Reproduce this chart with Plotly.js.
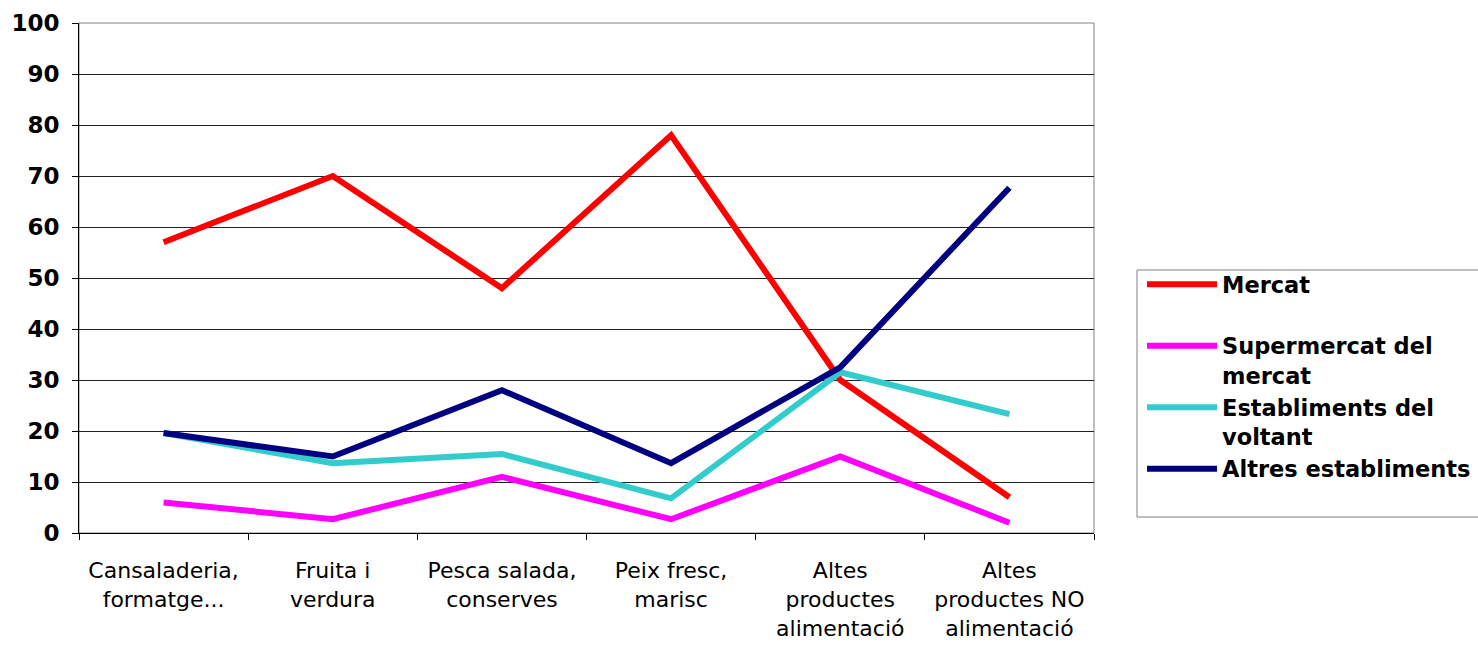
<!DOCTYPE html>
<html>
<head>
<meta charset="utf-8">
<script src="https://cdn.plot.ly/plotly-3.0.1.min.js"></script>
<style>html,body{margin:0;padding:0;background:#fff;}#chart{width:1478px;height:645px;}</style>
</head>
<body>
<div id="chart"></div>
<script>
const categories = [
  "Cansaladeria,<br>formatge...",
  "Fruita i<br>verdura",
  "Pesca salada,<br>conserves",
  "Peix fresc,<br>marisc",
  "Altes<br>productes<br>alimentació",
  "Altes<br>productes NO<br>alimentació"
];
const mercat = [57, 70, 48, 78, 30, 7];
const supermercat = [6, 2.7, 11, 2.7, 15, 2];
const establiments = [19.6, 13.7, 15.5, 6.8, 31.5, 23.3];
const altres = [19.6, 15, 28, 13.7, 32.5, 67.7];
const seriesNames = ["Mercat<br> ", "Supermercat del<br>mercat", "Establiments del<br>voltant", "Altres establiments"];
const yTicks = [0, 10, 20, 30, 40, 50, 60, 70, 80, 90, 100];

const colors = ["#FF0000", "#FF00FF", "#33CCCC", "#000080"];
const data = [mercat, supermercat, establiments, altres].map((vals, i) => ({
  type: "scatter",
  mode: "lines",
  x: categories,
  y: vals,
  name: seriesNames[i],
  line: {color: colors[i], width: 6}
}));

const layout = {
  width: 1478,
  height: 645,
  paper_bgcolor: "#fff",
  plot_bgcolor: "#fff",
  margin: {l: 79, r: 384, t: 23, b: 112, autoexpand: false},
  font: {family: "DejaVu Sans, Verdana, sans-serif", color: "#000"},
  showlegend: true,
  legend: {
    x: 1.0473, y: 0.5294, xanchor: "left", yanchor: "top",
    borderwidth: 0, bgcolor: "rgba(0,0,0,0)",
    font: {size: 22.5, weight: "bold", family: "DejaVu Sans, Verdana, sans-serif"},
    valign: "top",
    itemwidth: 70,
    tracegroupgap: 0
  },
  xaxis: {
    type: "category",
    range: [-0.5, 5.5],
    showgrid: false,
    showline: true, linecolor: "#000", linewidth: 1,
    ticks: "outside", ticklen: 6, tickcolor: "#000",
    tickson: "boundaries",
    tickfont: {size: 22},
    ticklabelstandoff: 18,
    zeroline: false,
    fixedrange: true
  },
  yaxis: {
    range: [0, 100],
    tickvals: yTicks,
    ticktext: yTicks.map(String),
    showgrid: true, gridcolor: "#222", gridwidth: 1,
    showline: true, linecolor: "#000", linewidth: 1,
    ticks: "outside", ticklen: 6, tickcolor: "#000",
    tickfont: {size: 23, weight: "bold"},
    ticklabelstandoff: 8,
    zeroline: false,
    fixedrange: true
  },
  shapes: [
    {type: "rect", xref: "paper", yref: "paper", x0: 0, x1: 1, y0: 0, y1: 1,
     line: {color: "#808080", width: 1}, layer: "below"},
    {type: "rect", xref: "paper", yref: "paper",
     x0: (1137 - 79) / 1015, x1: (1490 - 79) / 1015,
     y0: (533 - 517) / 510, y1: (533 - 270) / 510,
     line: {color: "#808080", width: 1}, fillcolor: "rgba(0,0,0,0)", layer: "below"}
  ]
};

Plotly.newPlot("chart", data, layout, {staticPlot: true});
</script>
</body>
</html>
